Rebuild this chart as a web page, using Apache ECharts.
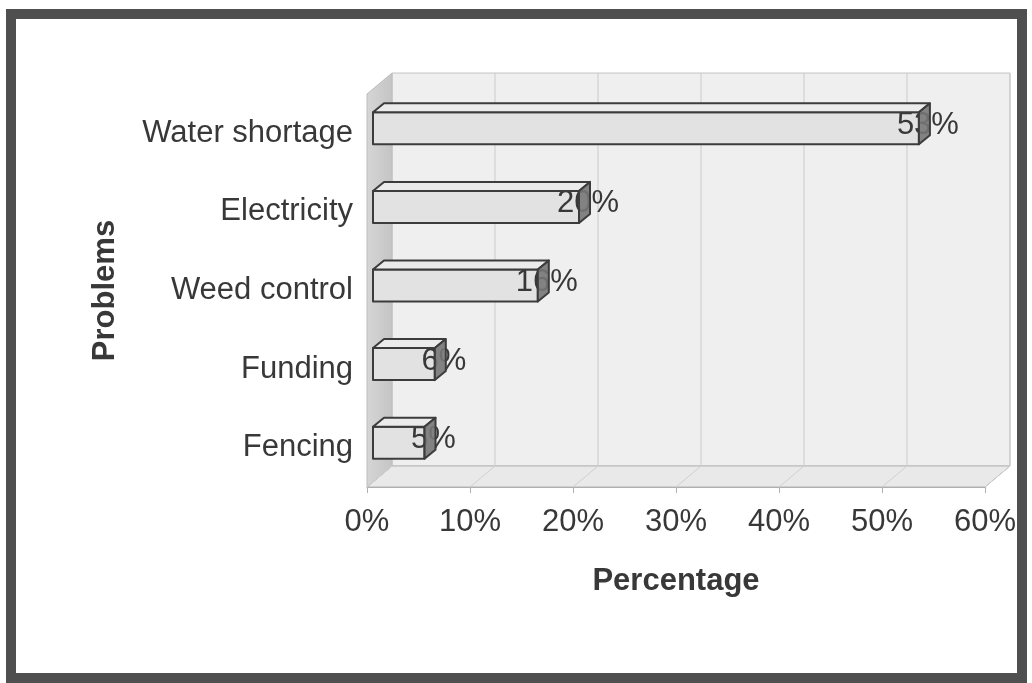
<!DOCTYPE html>
<html>
<head>
<meta charset="utf-8">
<title>Problems</title>
<script src="https://cdn.jsdelivr.net/npm/echarts@6/dist/echarts.min.js"></script>
<style>
  html, body { margin: 0; padding: 0; background: #ffffff; }
  #chart { width: 1032px; height: 683px; }
</style>
</head>
<body>
<div id="chart"></div>
<script>
// Survey results: share of respondents naming each problem
const categories = ['Water shortage', 'Electricity', 'Weed control', 'Funding', 'Fencing'];
const percentages = [53, 20, 16, 6, 5];
const xTicks = [0, 10, 20, 30, 40, 50, 60];

// Pseudo-3D geometry (pixels)
const WALL_DEPTH = [25, -21];   // offset from the floor front edge to the back wall
const BAR_SHIFT = [6, -5];      // bars sit a little behind the front edge
const BAR_DEPTH = [11, -9];     // thickness of each bar
const BAR_HALF = 16;            // half of the bar front face height

const FONT = '"Liberation Sans", Arial, sans-serif';
const FONT_SIZE = 31;
const TEXT = '#383838';

const chart = echarts.init(document.getElementById('chart'), null, { renderer: 'canvas' });

function renderRoom(params, api) {
  const cs = params.coordSys;
  const L = cs.x, R = cs.x + cs.width, T = cs.y, B = cs.y + cs.height;
  const dx = WALL_DEPTH[0], dy = WALL_DEPTH[1];
  const children = [];
  // back wall
  children.push({
    type: 'rect',
    shape: { x: L + dx, y: T + dy, width: R - L, height: B - T },
    style: { fill: '#efefef', stroke: '#c4c4c4', lineWidth: 1 }
  });
  // floor
  children.push({
    type: 'polygon',
    shape: { points: [[L, B], [R, B], [R + dx, B + dy], [L + dx, B + dy]] },
    style: { fill: '#e9e9e9', stroke: '#b5b5b5', lineWidth: 1 }
  });
  // left side wall
  children.push({
    type: 'polygon',
    shape: { points: [[L, T], [L + dx, T + dy], [L + dx, B + dy], [L, B]] },
    style: {
      fill: new echarts.graphic.LinearGradient(0, 0, 1, 0, [
        { offset: 0, color: '#d6d6d6' },
        { offset: 1, color: '#c4c4c4' }
      ]),
      stroke: '#bdbdbd', lineWidth: 1
    }
  });
  // grid lines on the back wall and their traces across the floor
  xTicks.forEach(function (v) {
    const x = api.coord([v, 0])[0];
    if (v > 0) {
      children.push({
        type: 'line',
        shape: { x1: x + dx, y1: T + dy, x2: x + dx, y2: B + dy },
        style: { stroke: '#cbcbcb', lineWidth: 1 }
      });
    }
    children.push({
      type: 'line',
      shape: { x1: x, y1: B, x2: x + dx, y2: B + dy },
      style: { stroke: '#d0d0d0', lineWidth: 1 }
    });
  });
  return { type: 'group', children: children };
}

function renderBar(params, api) {
  const v = api.value(0);
  const i = api.value(1);
  const start = api.coord([0, i]);
  const end = api.coord([v, i]);
  const x0 = start[0] + BAR_SHIFT[0];
  const x1 = end[0] + BAR_SHIFT[0];
  const yc = end[1] + BAR_SHIFT[1];
  const yt = yc - BAR_HALF, yb = yc + BAR_HALF;
  const bx = BAR_DEPTH[0], by = BAR_DEPTH[1];
  const edge = { stroke: '#3c3c3c', lineWidth: 2, lineJoin: 'round' };
  // front face, then the value label, then top and end faces over the label
  return {
    type: 'group',
    children: [
      { type: 'rect',
        z2: 1,
        shape: { x: x0, y: yt, width: x1 - x0, height: yb - yt },
        style: Object.assign({ fill: '#e2e2e2' }, edge) },
      { type: 'text',
        z2: 2,
        style: {
          x: x1 + 9, y: yc - 3,
          text: v + '%',
          fill: TEXT,
          font: FONT_SIZE + 'px ' + FONT,
          align: 'center', verticalAlign: 'middle'
        } },
      { type: 'polygon',
        z2: 3,
        shape: { points: [[x0, yt], [x1, yt], [x1 + bx, yt + by], [x0 + bx, yt + by]] },
        style: Object.assign({ fill: '#ebebeb' }, edge) },
      { type: 'polygon',
        z2: 3,
        shape: { points: [[x1, yt], [x1 + bx, yt + by], [x1 + bx, yb + by], [x1, yb]] },
        style: Object.assign({ fill: 'rgba(118,118,118,0.9)' }, edge) }
    ]
  };
}

const option = {
  animation: false,
  backgroundColor: '#ffffff',
  grid: { left: 367, right: 47, top: 94, bottom: 196, containLabel: false },
  xAxis: {
    type: 'value',
    min: 0, max: 60, interval: 10,
    name: 'Percentage',
    nameLocation: 'middle',
    nameGap: 79,
    nameTextStyle: { fontFamily: FONT, fontSize: FONT_SIZE, fontWeight: 'bold', color: TEXT },
    axisLine: { show: true, lineStyle: { color: '#a8a8a8', width: 1 } },
    axisTick: { show: true, length: 6, lineStyle: { color: '#b0b0b0' } },
    axisLabel: {
      formatter: '{value}%',
      fontFamily: FONT, fontSize: FONT_SIZE, color: TEXT, margin: 20
    },
    splitLine: { show: false }
  },
  yAxis: {
    type: 'category',
    inverse: true,
    data: categories,
    name: 'Problems',
    nameLocation: 'middle',
    nameRotate: 90,
    nameGap: 246,
    nameTextStyle: { fontFamily: FONT, fontSize: FONT_SIZE, fontWeight: 'bold', color: TEXT },
    axisLine: { show: false },
    axisTick: { show: false },
    axisLabel: { fontFamily: FONT, fontSize: FONT_SIZE, color: TEXT, margin: 14 },
    splitLine: { show: false }
  },
  graphic: [{
    type: 'rect',
    z: 100,
    shape: { x: 11, y: 14, width: 1011, height: 664 },
    style: { fill: 'none', stroke: '#4f4f4f', lineWidth: 10 }
  }],
  series: [
    {
      type: 'custom',
      name: 'room',
      z: 1,
      silent: true,
      renderItem: renderRoom,
      data: [[0, 0]]
    },
    {
      type: 'custom',
      name: 'Percentage',
      z: 5,
      renderItem: renderBar,
      encode: { x: 0, y: 1 },
      data: percentages.map(function (v, i) { return [v, i]; })
    }
  ]
};

chart.setOption(option);
</script>
</body>
</html>
